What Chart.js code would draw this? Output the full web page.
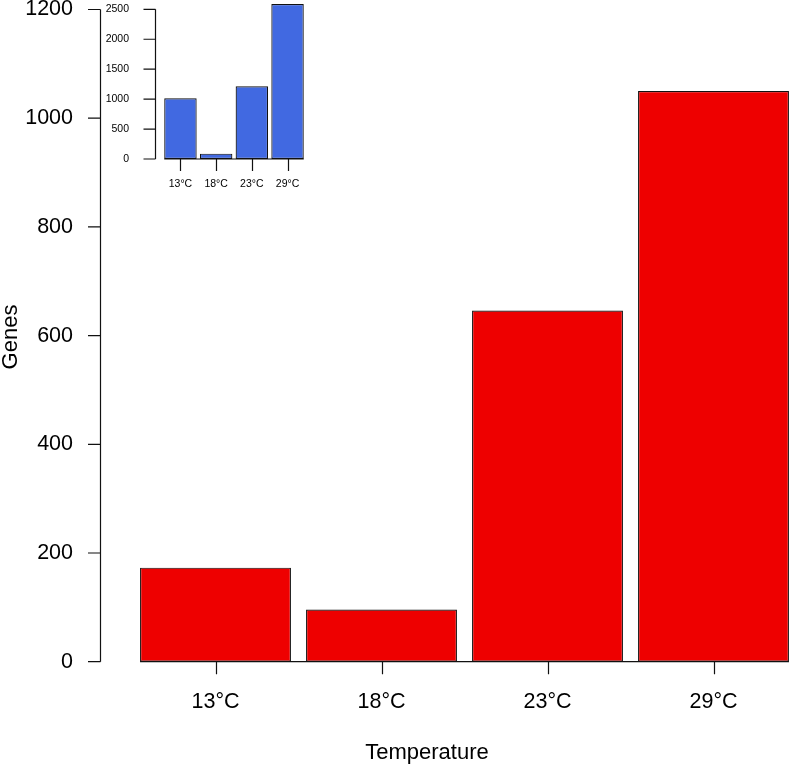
<!DOCTYPE html>
<html>
<head>
<meta charset="utf-8">
<script src="https://cdn.jsdelivr.net/npm/chart.js@4.4.1/dist/chart.umd.min.js"></script>
<style>
  html, body { margin: 0; padding: 0; background: #fff; overflow: hidden; }
  #wrap { position: relative; width: 792px; height: 767px; overflow: hidden; }
  canvas { position: absolute; left: 0; top: 0; }
</style>
</head>
<body>
<div id="wrap">
  <canvas id="mainChart" width="800" height="767" style="width:800px;height:767px"></canvas>
  <canvas id="insetChart" width="320" height="200" style="width:320px;height:200px"></canvas>
</div>
<script>
// Data
const temps = ['13°C', '18°C', '23°C', '29°C'];
const mainGenes = [173, 96, 646, 1050];
const insetGenes = [1014, 89, 1214, 2589];
const mainTicks = [0, 200, 400, 600, 800, 1000, 1200];
const insetTicks = [0, 500, 1000, 1500, 2000, 2500];

const FONT = "'Liberation Sans', Arial, Helvetica, sans-serif";

// R-style axes: y axis line set off from the bars, tick marks outward
const rAxes = {
    id: 'rAxes',
    afterDraw(chart, args, opts) {
        const { ctx } = chart;
        const x = chart.scales.x, y = chart.scales.y;
        const ticks = opts.ticks;
        const y0 = y.getPixelForValue(0);
        ctx.save();
        ctx.strokeStyle = '#111';
        ctx.lineWidth = 1.2;
        ctx.beginPath();
        // y axis
        ctx.moveTo(opts.axisX, y.getPixelForValue(ticks[0]));
        ctx.lineTo(opts.axisX, y.getPixelForValue(ticks[ticks.length - 1]));
        ticks.forEach(v => {
            const py = y.getPixelForValue(v);
            ctx.moveTo(opts.axisX, py);
            ctx.lineTo(opts.axisX - opts.tickLen, py);
        });
        // x ticks under bar centres
        chart.data.labels.forEach((l, i) => {
            const px = Math.round(x.getPixelForValue(i)) + 0.5;
            ctx.moveTo(px, y0);
            ctx.lineTo(px, y0 + opts.tickLen);
        });
        // baseline under the bars
        const bars = chart.getDatasetMeta(0).data;
        ctx.moveTo(bars[0].x - bars[0].width / 2, y0);
        ctx.lineTo(bars[bars.length - 1].x + bars[bars.length - 1].width / 2, y0);
        ctx.stroke();

        // axis titles
        if (opts.xTitle) {
            ctx.fillStyle = '#000';
            ctx.font = opts.titleSize + 'px ' + FONT;
            ctx.textAlign = 'center';
            ctx.textBaseline = 'middle';
            ctx.fillText(opts.xTitle, opts.xTitlePos[0], opts.xTitlePos[1]);
            ctx.translate(opts.yTitlePos[0], opts.yTitlePos[1]);
            ctx.rotate(-Math.PI / 2);
            ctx.fillText(opts.yTitle, 0, 0);
        }
        ctx.restore();
    }
};

function makeChart(id, values, color, cfg) {
    return new Chart(document.getElementById(id), {
        type: 'bar',
        data: {
            labels: temps,
            datasets: [{
                data: values,
                backgroundColor: color,
                borderColor: '#111',
                borderWidth: 1.2,
                borderSkipped: false,
                categoryPercentage: 1,
                barPercentage: 1 / 1.1
            }]
        },
        options: {
            responsive: false,
            animation: false,
            layout: { padding: cfg.padding },
            plugins: {
                legend: { display: false },
                tooltip: { enabled: false },
                rAxes: cfg.axes
            },
            scales: {
                x: {
                    grid: { display: false, drawTicks: false },
                    border: { display: false },
                    ticks: {
                        color: '#000',
                        padding: cfg.xPad,
                        maxRotation: 0,
                        autoSkip: false,
                        font: { family: FONT, size: cfg.fontSize }
                    },
                    afterFit(s) { s.height = cfg.xHeight; s.paddingLeft = 0; s.paddingRight = 0; }
                },
                y: {
                    min: 0,
                    max: cfg.yMax,
                    grid: { display: false, drawTicks: false },
                    border: { display: false },
                    ticks: {
                        color: '#000',
                        padding: cfg.yPad,
                        autoSkip: false,
                        font: { family: FONT, size: cfg.fontSize },
                        callback: v => String(v)
                    },
                    // use the tick values from the figure
                    afterBuildTicks(s) {
                        s.ticks = cfg.axes.ticks.map(v => ({ value: v }));
                    },
                    afterFit(s) { s.width = cfg.yWidth; s.paddingTop = 0; s.paddingBottom = 0; }
                }
            }
        },
        plugins: [rAxes]
    });
}

// Main chart
makeChart('mainChart', mainGenes, '#EE0000', {
    padding: { top: 9.5, right: 3.5, left: 0, bottom: 0 },
    yMax: 1200,
    fontSize: 21.5,
    xPad: 27, yPad: 59.5,
    xHeight: 105.3, yWidth: 132.5,
    axes: {
        ticks: mainTicks, axisX: 100.5, tickLen: 12.5,
        xTitle: 'Temperature', yTitle: 'Genes', titleSize: 22,
        xTitlePos: [427, 753], yTitlePos: [11, 337]
    }
});

// Inset chart
makeChart('insetChart', insetGenes, '#4169E1', {
    padding: { top: 3.3, right: 14.6, left: 0, bottom: 0 },
    yMax: 2600,
    fontSize: 10.5,
    xPad: 18.5, yPad: 33.6,
    xHeight: 41, yWidth: 162.6,
    axes: { ticks: insetTicks, axisX: 155.5, tickLen: 12 }
});
</script>
</body>
</html>
